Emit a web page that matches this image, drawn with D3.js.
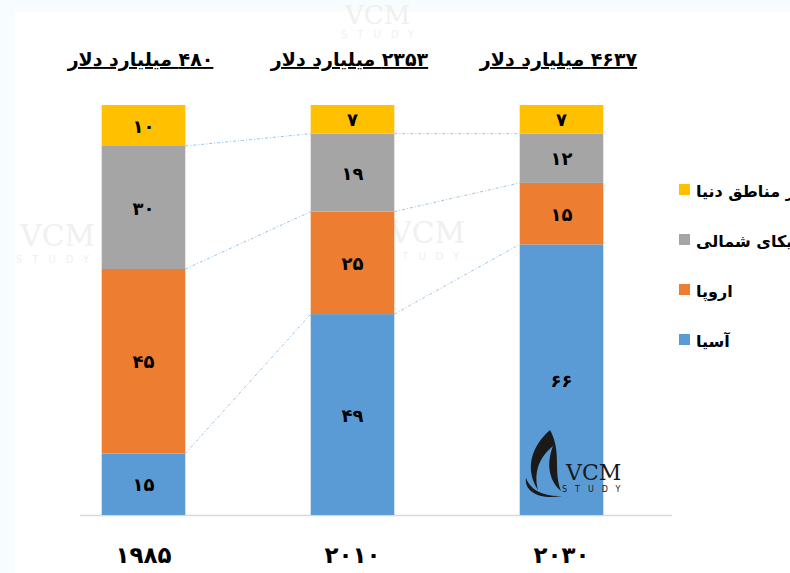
<!DOCTYPE html>
<html>
<head>
<meta charset="utf-8" />
<title>سهم مناطق</title>
<script src="https://d3js.org/d3.v7.min.js"></script>
<style>
  body { margin: 0; background: #f7fcfe; }
  svg { display: block; }
  text { font-family: "DejaVu Sans", sans-serif; font-weight: bold; fill: #000; }
  .series-line { fill: none; stroke: #9dc3e6; stroke-width: 1; stroke-dasharray: 3,2,1,2; }
  .wm { font-family: "DejaVu Serif", serif; font-weight: normal; }
</style>
</head>
<body>
<svg id="chart" width="790" height="573"></svg>
<script>
// data
var years = ['1985', '2010', '2030'];
var titles = ['480 میلیارد دلار', '2353 میلیارد دلار', '4637 میلیارد دلار'];
var regions = ['آسیا', 'اروپا', 'آمریکای شمالی', 'سایر مناطق دنیا'];
var asia = [15, 49, 66];
var europe = [45, 25, 15];
var northAmerica = [30, 19, 12];
var otherRegions = [10, 7, 7];
var colors = ['#5b9bd5', '#ed7d31', '#a5a5a5', '#ffc000'];

// persian digits
function fa(s) {
    return String(s).replace(/[0-9]/g, function (d) { return '۰۱۲۳۴۵۶۷۸۹'[+d]; });
}

var table = years.map(function (y, i) {
    return { year: y, asia: asia[i], europe: europe[i], na: northAmerica[i], other: otherRegions[i] };
});
var keys = ['asia', 'europe', 'na', 'other'];
var stacked = d3.stack().keys(keys)(table);

var svg = d3.select('#chart');

// white plotting area
svg.append('rect').attr('x', 15).attr('y', 12).attr('width', 775).attr('height', 561).attr('fill', '#fff');

var xScale = d3.scaleBand()
    .domain(years)
    .range([39, 666])
    .paddingInner(0.6)
    .paddingOuter(0.3);

var yScale = d3.scaleLinear()
    .domain([0, 100])
    .range([515, 105]);

// faint watermarks
function watermark(x, y, size, color) {
    var g = svg.append('g').attr('transform', 'translate(' + x + ',' + y + ')');
    g.append('text').attr('class', 'wm').attr('x', 0).attr('y', 0)
        .attr('font-size', size).style('fill', color).text('VCM');
    g.append('text').attr('x', -4).attr('y', size * 0.55)
        .attr('font-size', 10).attr('letter-spacing', 10).style('fill', color)
        .style('font-weight', 'normal').text('STUDY');
}
watermark(345, 24, 26, '#f0f0f0');
watermark(20, 246, 30, '#f0f0f0');
watermark(390, 243, 30, '#f0f0f0');

// axis baseline
svg.append('line')
    .attr('x1', 80).attr('x2', 672)
    .attr('y1', yScale(0) + 0.5).attr('y2', yScale(0) + 0.5)
    .attr('stroke', '#d9d9d9').attr('stroke-width', 1.5);

// series lines between bars
stacked.slice(0, 3).forEach(function (layer) {
    for (var i = 0; i < years.length - 1; i++) {
        svg.append('line')
            .attr('class', 'series-line')
            .attr('x1', xScale(years[i]) + xScale.bandwidth())
            .attr('y1', yScale(layer[i][1]))
            .attr('x2', xScale(years[i + 1]))
            .attr('y2', yScale(layer[i + 1][1]));
    }
});

// bars
var layers = svg.selectAll('.layer')
    .data(stacked)
    .enter().append('g')
    .attr('class', 'layer')
    .attr('fill', function (d, i) { return colors[i]; });

layers.selectAll('rect')
    .data(function (d) { return d; })
    .enter().append('rect')
    .attr('x', function (d) { return xScale(d.data.year); })
    .attr('y', function (d) { return yScale(d[1]); })
    .attr('width', xScale.bandwidth())
    .attr('height', function (d) { return yScale(d[0]) - yScale(d[1]); });

layers.selectAll('.lbl')
    .data(function (d) { return d; })
    .enter().append('text')
    .attr('class', 'lbl')
    .attr('text-anchor', 'middle')
    .attr('font-size', 18)
    .attr('x', function (d) { return xScale(d.data.year) + xScale.bandwidth() / 2; })
    .attr('y', function (d) { return (yScale(d[0]) + yScale(d[1])) / 2 + 7; })
    .text(function (d) { return fa(d[1] - d[0]); });

// dark watermark
svg.append('path')
    .attr('d', 'M550,430 C532,446 524,468 538,490 C533,470 541,456 553,446 C546,464 549,481 561,491 C553,470 562,452 550,430 Z')
    .attr('fill', '#1a1a1a');
svg.append('path')
    .attr('d', 'M526,478 C524,492 540,500 562,496 C544,497 530,490 526,478 Z')
    .attr('fill', '#1a1a1a');
svg.append('text').attr('class', 'wm').attr('x', 566).attr('y', 480)
    .attr('font-size', 22).style('fill', '#1a1a1a').text('VCM');
svg.append('text').attr('x', 562).attr('y', 492)
    .attr('font-size', 8).attr('letter-spacing', 8).style('fill', '#1a1a1a')
    .style('font-weight', 'normal').text('STUDY');

// titles
svg.selectAll('.title')
    .data(titles)
    .enter().append('text')
    .attr('class', 'title')
    .attr('direction', 'rtl')
    .style('direction', 'rtl')
    .attr('text-anchor', 'middle')
    .attr('font-size', 19)
    .attr('text-decoration', 'underline')
    .attr('x', function (d, i) { return xScale(years[i]) + xScale.bandwidth() / 2 - 3; })
    .attr('y', 66)
    .text(function (d) { return fa(d); });

// year labels
svg.selectAll('.year')
    .data(years)
    .enter().append('text')
    .attr('class', 'year')
    .attr('text-anchor', 'middle')
    .attr('font-size', 23)
    .attr('x', function (d) { return xScale(d) + xScale.bandwidth() / 2; })
    .attr('y', 563)
    .text(function (d) { return fa(d); });

// legend, top to bottom reversed
var legendRows = regions.slice().reverse();
var legendColors = colors.slice().reverse();
var legend = svg.selectAll('.legend')
    .data(legendRows)
    .enter().append('g')
    .attr('class', 'legend')
    .attr('transform', function (d, i) { return 'translate(679,' + (184 + i * 50) + ')'; });

legend.append('rect')
    .attr('width', 11).attr('height', 11)
    .attr('fill', function (d, i) { return legendColors[i]; });

legend.append('text')
    .attr('x', 17)
    .attr('y', 13)
    .attr('font-size', 16)
    .text(function (d) { return d; });
</script>
</body>
</html>
